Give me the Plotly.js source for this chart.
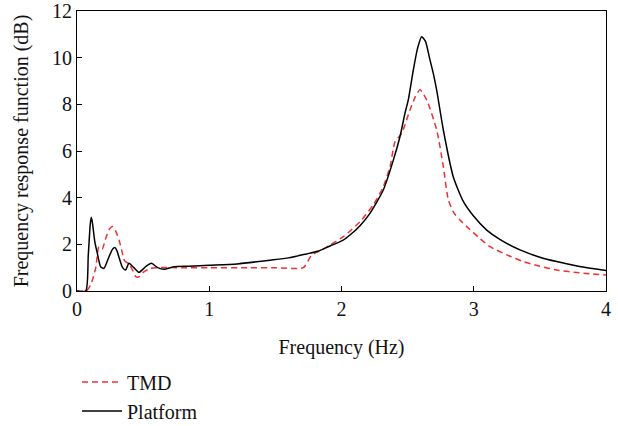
<!DOCTYPE html>
<html>
<head>
<meta charset="utf-8">
<script src="https://cdn.plot.ly/plotly-3.0.1.min.js"></script>
<style>html,body{margin:0;padding:0;background:#fff;}#chart{width:618px;height:426px;}</style>
</head>
<body>
<div id="chart"></div>
<script>
// Platform (black solid)
const platformFreq = [0, 0.066, 0.085, 0.1, 0.108, 0.116, 0.135, 0.154, 0.179, 0.204, 0.242, 0.27, 0.285, 0.3, 0.32, 0.345, 0.368, 0.393, 0.43, 0.469, 0.52, 0.562, 0.61, 0.658, 0.733, 0.85, 1.0, 1.21, 1.46, 1.6, 1.737, 1.82, 1.913, 2.01, 2.064, 2.14, 2.215, 2.316, 2.392, 2.442, 2.48, 2.505, 2.543, 2.575, 2.606, 2.635, 2.665, 2.694, 2.72, 2.77, 2.845, 2.92, 3.0, 3.098, 3.2, 3.35, 3.5, 3.627, 3.8, 4.0];
const platformFRF  = [0, 0, 1.5, 2.85, 3.16, 2.95, 2.1, 1.61, 1.04, 0.97, 1.47, 1.8, 1.86, 1.75, 1.4, 1.0, 0.9, 1.19, 1.0, 0.8, 1.05, 1.19, 1.0, 0.93, 1.04, 1.06, 1.1, 1.16, 1.32, 1.42, 1.59, 1.7, 1.93, 2.17, 2.4, 2.8, 3.33, 4.33, 5.61, 6.61, 7.62, 8.19, 9.47, 10.4, 10.9, 10.7, 10.0, 9.33, 8.6, 6.9, 4.9, 3.85, 3.2, 2.61, 2.2, 1.76, 1.45, 1.26, 1.05, 0.88];
// TMD (red dashed)
const tmdFreq = [0, 0.07, 0.103, 0.141, 0.166, 0.19, 0.22, 0.245, 0.27, 0.29, 0.318, 0.34, 0.36, 0.393, 0.42, 0.444, 0.464, 0.5, 0.552, 0.6, 0.8, 1.0, 1.3, 1.5, 1.711, 1.775, 1.85, 1.913, 2.014, 2.14, 2.24, 2.316, 2.367, 2.405, 2.455, 2.518, 2.56, 2.594, 2.644, 2.72, 2.77, 2.808, 2.85, 2.896, 2.947, 3.047, 3.123, 3.25, 3.375, 3.5, 3.627, 3.8, 4.0];
const tmdFRF  = [0, 0, 0.26, 0.97, 1.9, 1.8, 2.3, 2.65, 2.76, 2.6, 2.19, 1.7, 1.3, 1.15, 0.9, 0.62, 0.6, 0.8, 0.97, 1.0, 1.0, 1.0, 1.0, 1.0, 1.0, 1.54, 1.75, 1.97, 2.33, 2.97, 3.69, 4.47, 5.33, 6.4, 6.76, 7.76, 8.35, 8.62, 8.19, 6.9, 5.33, 3.9, 3.35, 3.04, 2.76, 2.25, 1.9, 1.55, 1.26, 1.06, 0.9, 0.78, 0.69];

const xTicks = [0, 1, 2, 3, 4];
const yTicks = [0, 2, 4, 6, 8, 10, 12];

const FONT = "Liberation Serif, Times New Roman, serif";

const traces = [
  {x: tmdFreq, y: tmdFRF, name: "TMD", mode: "lines", type: "scatter",
   line: {color: "#f03030", width: 1.5, dash: "6px,4px", shape: "spline", smoothing: 0.6}},
  {x: platformFreq, y: platformFRF, name: "Platform", mode: "lines", type: "scatter",
   line: {color: "#000000", width: 1.5, shape: "spline", smoothing: 0.6}}
];

const layout = {
  width: 618, height: 426,
  margin: {l: 77, r: 12, t: 11, b: 135, autoexpand: false},
  paper_bgcolor: "#fff", plot_bgcolor: "#fff",
  font: {family: FONT, size: 20, color: "#111"},
  showlegend: true,
  legend: {x: 0, xanchor: "left", yref: "container", y: 0.149, yanchor: "top", orientation: "v",
           font: {family: FONT, size: 20, color: "#111"}, bgcolor: "rgba(0,0,0,0)",
           tracegroupgap: 0, itemwidth: 40},
  xaxis: {range: [0, 4], tickvals: xTicks, ticks: "inside", ticklen: 5, tickcolor: "#000",
          showline: true, linecolor: "#000", linewidth: 1, mirror: true, showgrid: false, zeroline: false,
          automargin: false,
          title: {text: "Frequency (Hz)", font: {family: FONT, size: 20}, standoff: 20},
          tickfont: {family: FONT, size: 20}},
  yaxis: {range: [0, 12], tickvals: yTicks, ticks: "inside", ticklen: 5, tickcolor: "#000",
          showline: true, linecolor: "#000", linewidth: 1, mirror: true, showgrid: false, zeroline: false,
          automargin: false,
          title: {text: "Frequency response function (dB)", font: {family: FONT, size: 20}, standoff: 18},
          tickfont: {family: FONT, size: 20}}
};

Plotly.newPlot("chart", traces, layout, {displayModeBar: false, staticPlot: true});
</script>
</body>
</html>
